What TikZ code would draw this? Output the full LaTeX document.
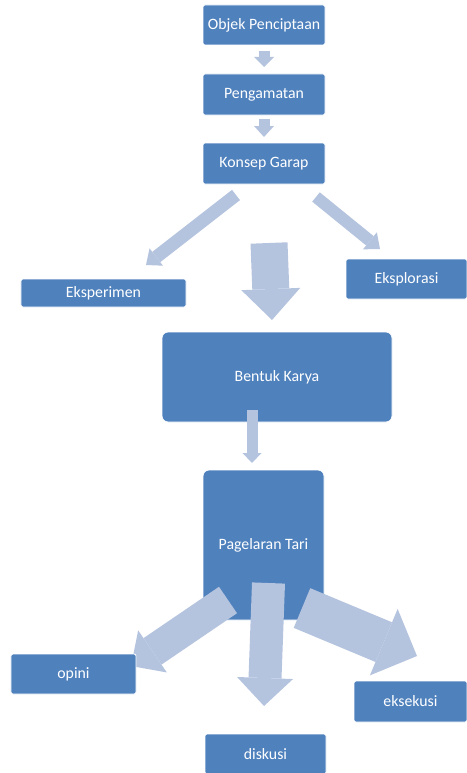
\documentclass[tikz,border=0pt]{standalone}
\usepackage{fontspec}
\setmainfont{Carlito}
\usetikzlibrary{arrows.meta}
\definecolor{boxblue}{RGB}{79,129,189}
\definecolor{arrowblue}{RGB}{180,195,222}

\begin{document}
\begin{tikzpicture}[x=1bp,y=-1bp,
  box/.style={fill=boxblue,draw=white,line width=0.8bp,text=white,
    rounded corners=2bp,inner sep=0pt,font=\fontsize{15.8bp}{19bp}\selectfont},
  dim/.style 2 args={minimum width=#1bp,minimum height=#2bp},
  blk/.style n args={3}{draw=arrowblue,line width=#1bp,
    -{Triangle[length=#3bp 0 1,width=#2bp 0 1,line width=0pt 0 1]}}]
\useasboundingbox (0,0) rectangle (467,773);

\node[box,dim={122}{40}] (obj)    at (264,25)    {Objek Penciptaan};
\node[box,dim={122}{41}] (pen)    at (264,94.5)  {Pengamatan};
\node[box,dim={122}{41}] (kon)    at (264,163.5) {Konsep Garap};
\node[box,dim={165}{28}] (eksp)   at (103.5,293) {Eksperimen};
\node[box,dim={121}{40}] (eksl)   at (406.5,279) {Eksplorasi};
\node[box,dim={230}{90},rounded corners=6bp] (bentuk) at (277,377) {Bentuk Karya};
\node[box,dim={121}{150},rounded corners=6bp] (pagel) at (263.5,545) {Pagelaran Tari};

\coordinate (a1) at (264,51);   \coordinate (b1) at (264,67);
\coordinate (a2) at (264,119);  \coordinate (b2) at (264,137);
\coordinate (a3) at (236,195);  \coordinate (b3) at (146,265);
\coordinate (a4) at (316,197);  \coordinate (b4) at (380,249);
\coordinate (a5) at (269,243);  \coordinate (b5) at (272,320);
\coordinate (a6) at (252,410);  \coordinate (b6) at (252,463);
\coordinate (a7) at (228,600);  \coordinate (b7) at (131,666);
\coordinate (a8) at (268.5,583);\coordinate (b8) at (264,706);
\coordinate (a9) at (302,608);  \coordinate (b9) at (417,656);

\draw[blk={11}{20}{10}] (a1) -- (b1);
\draw[blk={11}{20}{11}] (a2) -- (b2);
\draw[blk={13}{22}{13}] (a3) -- (b3);
\draw[blk={12}{22}{13}] (a4) -- (b4);
\draw[blk={37}{59}{31}] (a5) -- (b5);
\draw[blk={11}{19}{10}] (a6) -- (b6);
\draw[blk={32}{51}{26}] (a7) -- (b7);
\draw[blk={33}{56}{28}] (a8) -- (b8);
\draw[blk={43}{72}{36}] (a9) -- (b9);

\node[box,dim={125}{40}] (opini) at (73.5,674)  {opini};
\node[box,dim={113}{41}] (eksek) at (410.5,701.5) {eksekusi};
\node[box,dim={121}{40}] (disk)  at (265.5,754) {diskusi};
\end{tikzpicture}
\end{document}
